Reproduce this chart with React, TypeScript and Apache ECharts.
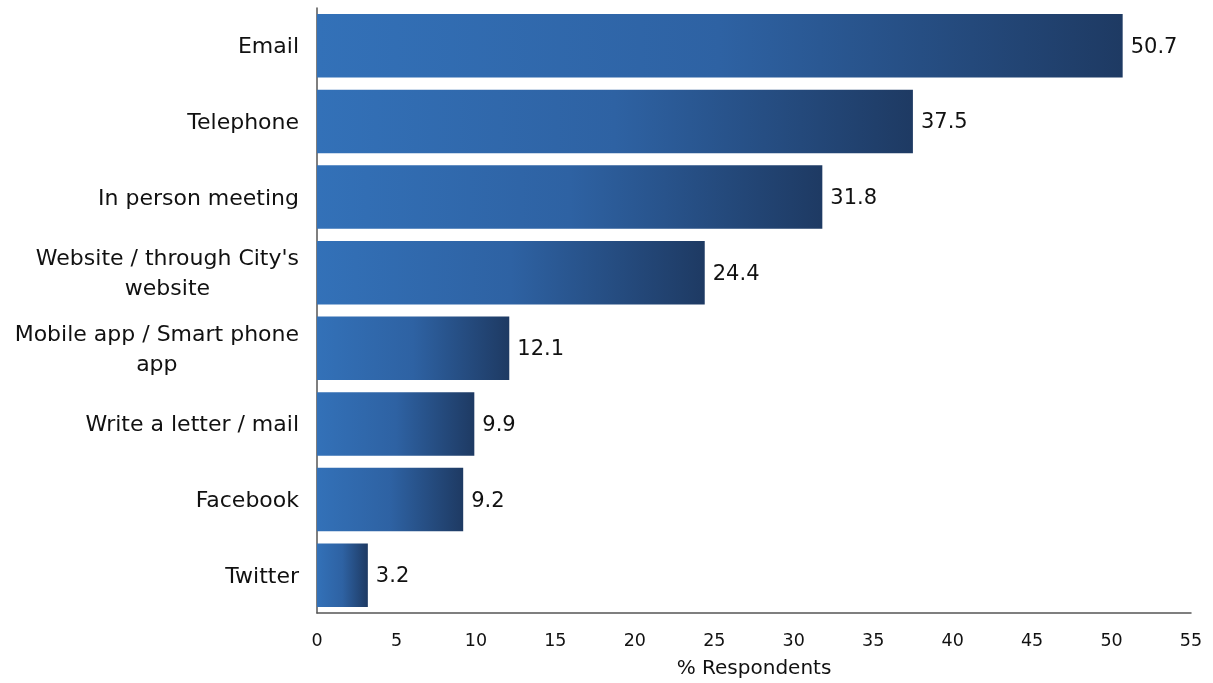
import React, { useEffect, useRef } from "react";
import * as echarts from "echarts";

const categories = [
  "Email",
  "Telephone",
  "In person meeting",
  "Website / through City's\nwebsite",
  "Mobile app / Smart phone\napp",
  "Write a letter / mail",
  "Facebook",
  "Twitter",
];
const values = [50.7, 37.5, 31.8, 24.4, 12.1, 9.9, 9.2, 3.2];
const axisMin = 0;
const axisMax = 55;
const axisInterval = 5;
const axisTitle = "% Respondents";

const FONT = "DejaVu Sans";

export default function App() {
  const ref = useRef<HTMLDivElement>(null);
  useEffect(() => {
    if (!ref.current) return;
    const chart = echarts.init(ref.current, undefined, { renderer: "svg" });
    const grad = new echarts.graphic.LinearGradient(0, 0, 1, 0, [
      { offset: 0, color: "#3371b8" },
      { offset: 0.5, color: "#2e62a3" },
      { offset: 1, color: "#1e3a63" },
    ]);
    chart.setOption({
      animation: false,
      grid: { left: 317, right: 22, top: 8, bottom: 70, containLabel: false },
      xAxis: {
        type: "value",
        min: axisMin,
        max: axisMax,
        interval: axisInterval,
        name: axisTitle,
        nameLocation: "middle",
        nameGap: 44,
        nameTextStyle: { fontFamily: FONT, fontSize: 20, color: "#111" },
        axisLine: { show: true, lineStyle: { color: "#555", width: 1.5 } },
        axisTick: { show: false },
        splitLine: { show: false },
        axisLabel: { fontFamily: FONT, fontSize: 17.5, color: "#111", margin: 18 },
      },
      yAxis: {
        type: "category",
        inverse: true,
        data: categories,
        axisLine: { show: true, lineStyle: { color: "#555", width: 1.5 } },
        axisTick: { show: false },
        axisLabel: {
          fontFamily: FONT,
          fontSize: 22,
          color: "#111",
          margin: 18,
          align: "right",
          lineHeight: 30,
          formatter: (v: string) =>
            v
              .split("\n")
              .map((l) => "{c|" + l + "}")
              .join("\n"),
          rich: {
            c: {
              align: "center",
              fontFamily: FONT,
              fontSize: 22,
              color: "#111",
              lineHeight: 30,
            },
          },
        },
      },
      series: [
        {
          type: "bar",
          data: values,
          barCategoryGap: "16%",
          itemStyle: { color: grad },
          label: {
            show: true,
            position: "right",
            distance: 8,
            fontFamily: FONT,
            fontSize: 21,
            color: "#111",
          },
        },
      ],
    });
    return () => chart.dispose();
  }, []);
  return <div ref={ref} style={{ width: 1213, height: 683, position: "fixed", left: 0, top: 0 }} />;
}
